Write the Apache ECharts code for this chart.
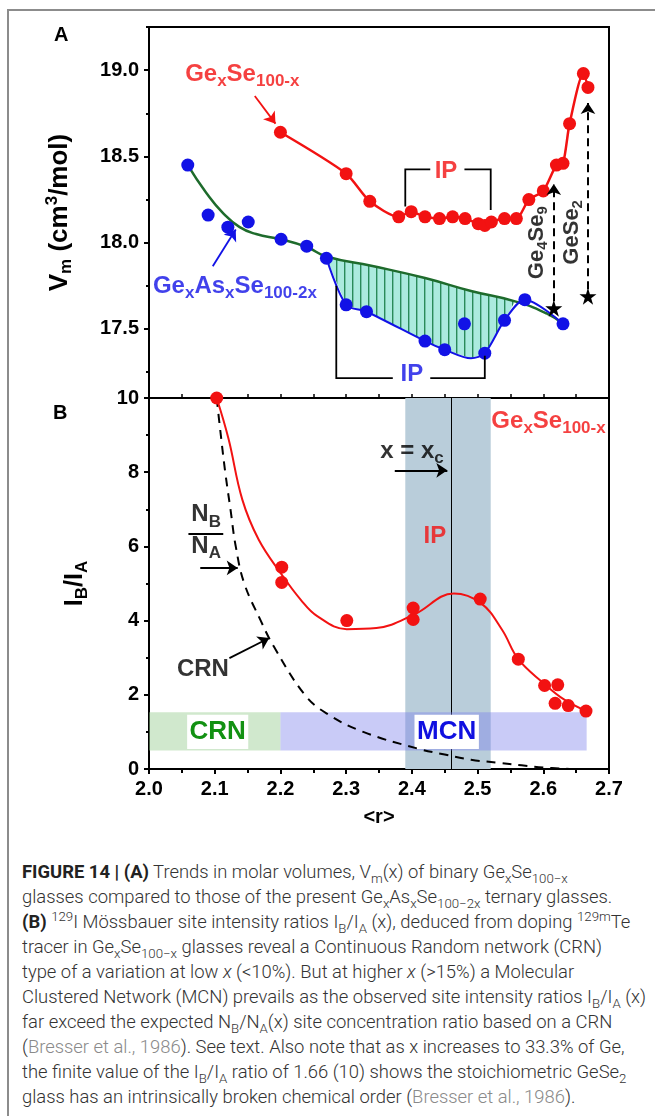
<!DOCTYPE html>
<html>
<head>
<meta charset="utf-8">
<script src="https://cdn.jsdelivr.net/npm/echarts@6.0.0/dist/echarts.min.js"></script>
<style>
  body { margin: 0; background: #fff; width: 655px; height: 1116px; overflow: hidden; position: relative; }
  #frame { position: absolute; left: 7px; top: 9px; width: 800px; height: 1200px; border-left: 2px solid #8c8c8c; border-top: 2px solid #8c8c8c; }
  #chart { position: absolute; left: 0; top: 0; width: 655px; height: 850px; }
  #cap { position: absolute; left: 22px; top: 859px; font-family: Roboto, "Liberation Sans", sans-serif; font-weight: 300;
         font-size: 18px; line-height: 25px; color: #333; transform-origin: left top; }
  #cap div { white-space: nowrap; }
  #cap b { font-weight: 700; color: #222; }
  #cap sub, #cap sup { font-size: 0.72em; line-height: 0; }
  #cap .ref { color: #8a8a8a; }
</style>
</head>
<body>
<div id="frame"></div>
<div id="chart"></div>
<div id="cap">
  <div><b>FIGURE 14 | (A)</b> Trends in molar volumes, V<sub>m</sub>(x) of binary Ge<sub>x</sub>Se<sub>100−x</sub></div>
  <div>glasses compared to those of the present Ge<sub>x</sub>As<sub>x</sub>Se<sub>100−2x</sub> ternary glasses.</div>
  <div><b>(B)</b> <sup>129</sup>I Mössbauer site intensity ratios I<sub>B</sub>/I<sub>A</sub> (x), deduced from doping <sup>129m</sup>Te</div>
  <div>tracer in Ge<sub>x</sub>Se<sub>100−x</sub> glasses reveal a Continuous Random network (CRN)</div>
  <div>type of a variation at low <i>x</i> (&lt;10%). But at higher <i>x</i> (&gt;15%) a Molecular</div>
  <div id="wideLine">Clustered Network (MCN) prevails as the observed site intensity ratios I<sub>B</sub>/I<sub>A</sub> (x)</div>
  <div>far exceed the expected N<sub>B</sub>/N<sub>A</sub>(x) site concentration ratio based on a CRN</div>
  <div>(<span class="ref">Bresser et al., 1986</span>). See text. Also note that as x increases to 33.3% of Ge,</div>
  <div>the finite value of the I<sub>B</sub>/I<sub>A</sub> ratio of 1.66 (10) shows the stoichiometric GeSe<sub>2</sub></div>
  <div>glass has an intrinsically broken chemical order (<span class="ref">Bresser et al., 1986</span>).</div>
</div>
<script>
// ---- panel A: molar volume ----
const geSeR = [2.200, 2.300, 2.336, 2.380, 2.399, 2.420, 2.442, 2.462, 2.481, 2.501, 2.511, 2.521, 2.541, 2.559, 2.578, 2.600, 2.620, 2.630, 2.640, 2.661, 2.668]
const geSeVm = [18.64, 18.40, 18.24, 18.15, 18.18, 18.15, 18.14, 18.15, 18.14, 18.11, 18.10, 18.12, 18.14, 18.14, 18.25, 18.30, 18.45, 18.46, 18.69, 18.98, 18.90]
const geAsSeR = [2.059, 2.090, 2.120, 2.151, 2.201, 2.240, 2.270, 2.300, 2.331, 2.420, 2.450, 2.480, 2.511, 2.541, 2.572, 2.630]
const geAsSeVm = [18.45, 18.16, 18.09, 18.12, 18.02, 17.98, 17.91, 17.64, 17.60, 17.43, 17.38, 17.53, 17.36, 17.55, 17.67, 17.53]
// green guide curve (network trend) and blue guide through the IP window
const trendR = [2.059, 2.087, 2.113, 2.138, 2.163, 2.200, 2.240, 2.270, 2.340, 2.420, 2.490, 2.557, 2.605, 2.630]
const trendVm = [18.45, 18.29, 18.17, 18.09, 18.05, 18.02, 17.975, 17.92, 17.865, 17.795, 17.72, 17.66, 17.59, 17.53]
const ipLineR = [2.270, 2.300, 2.331, 2.420, 2.450, 2.490, 2.511, 2.541, 2.572, 2.630]
const ipLineVm = [17.91, 17.64, 17.60, 17.43, 17.38, 17.33, 17.36, 17.55, 17.67, 17.53]
const hatchFrom = 2.27, hatchTo = 2.56
const starR = [2.616, 2.668]   // Ge4Se9, GeSe2
const starVm = [17.62, 17.69]
const vmTicks = [17.5, 18.0, 18.5, 19.0]
const vmMinorTicks = [17.25, 17.75, 18.25, 18.75, 19.25]

// ---- panel B: I_B/I_A ----
const ratioR = [2.103, 2.202, 2.202, 2.301, 2.402, 2.402, 2.504, 2.562, 2.602, 2.622, 2.618, 2.638, 2.665]
const ratioIB = [10.0, 5.44, 5.03, 4.00, 4.34, 4.03, 4.58, 2.96, 2.25, 2.27, 1.77, 1.71, 1.56]
const fitR = [2.103, 2.121, 2.142, 2.167, 2.202, 2.231, 2.256, 2.301, 2.346, 2.403, 2.464, 2.505, 2.537, 2.562, 2.600, 2.632, 2.667]
const fitIB = [10.0, 8.9, 7.26, 6.18, 5.24, 4.56, 4.12, 3.77, 3.80, 4.16, 4.73, 4.47, 3.76, 2.96, 2.32, 1.87, 1.55]
const crnR = [2.103, 2.108, 2.116, 2.124, 2.132, 2.145, 2.170, 2.190, 2.237, 2.270, 2.326, 2.409, 2.450, 2.490, 2.530, 2.567, 2.600, 2.640]
const crnIB = [10.0, 9.2, 8.0, 7.0, 6.0, 5.0, 4.0, 3.3, 2.0, 1.5, 1.0, 0.55, 0.39, 0.25, 0.17, 0.10, 0.04, 0.0]
const ipBand = [2.39, 2.52]
const xc = 2.4615
const crnBand = [2.0, 2.2]
const mcnBand = [2.2, 2.666]
const bandIB = [0.5, 1.53]
const crnBox = [2.058, 2.151]
const mcnBox = [2.404, 2.502]
const boxIB = [0.54, 1.46]

// arrows [r1, y1, r2, y2]
const arrowRedA = [2.161, 18.85, 2.1925, 18.69]
const arrowBlueA = [2.097, 17.863, 2.132, 18.077]
const ipTopLeft = [[2.428, 18.425], [2.390, 18.425], [2.390, 18.21]]
const ipTopRight = [[2.480, 18.425], [2.520, 18.425], [2.520, 18.19]]
const ipLowLeft = [[2.371, 17.215], [2.285, 17.215], [2.285, 17.75]]
const ipLowRight = [[2.428, 17.215], [2.511, 17.215], [2.511, 17.345]]
const dashGe4Se9 = [[2.616, 17.66], [2.616, 18.34]]
const dashGeSe2 = [[2.668, 17.73], [2.668, 18.81]]
const arrowXc = [2.374, 8.05, 2.454, 8.05]
const arrowNbNa = [2.078, 5.42, 2.135, 5.42]
const arrowCrn = [2.1224, 2.99, 2.183, 3.53]
const fracBar = [2.060, 6.34, 2.113, 6.34]

const F = '"Liberation Sans", Arial, sans-serif'
const RED = '#f21212'
const BLUE = '#1212e6'
const GREEN = '#1e6b2c'

function pts(xs, ys) { return xs.map((x, i) => [x, ys[i]]) }

function mkRich(big, small) {
  const shift = Math.round(small * 0.8)
  return {
    b: { fontSize: big, fontWeight: 'bold', fontFamily: F },
    s: { fontSize: small, fontWeight: 'bold', fontFamily: F, padding: [shift, 0, 0, 0] },
    p: { fontSize: small, fontWeight: 'bold', fontFamily: F, padding: [0, 0, shift, 0] }
  }
}

function tag(r, v, text, color, extra, big, small) {
  return {
    value: [r, v],
    label: Object.assign({
      show: true, formatter: text, color: color, position: 'inside',
      fontFamily: F, fontWeight: 'bold', fontSize: big || 24, rich: mkRich(big || 24, small || 17)
    }, extra || {})
  }
}

function arrowLine(seg, color, axes, opts) {
  const coords = Array.isArray(seg[0]) ? seg : [[seg[0], seg[1]], [seg[2], seg[3]]]
  return Object.assign({
    type: 'lines', coordinateSystem: 'cartesian2d', xAxisIndex: axes, yAxisIndex: axes === 0 ? 0 : 2,
    polyline: coords.length > 2, symbol: ['none', 'arrow'], symbolSize: 11, z: 8, silent: true,
    lineStyle: { color: color, width: 1.8, opacity: 1 },
    data: [{ coords: coords }]
  }, opts || {})
}

// hatch pattern for the IP window in panel A
const pat = document.createElement('canvas')
pat.width = 8; pat.height = 8
const pc = pat.getContext('2d')
pc.fillStyle = '#abeadf'; pc.fillRect(0, 0, 8, 8)
pc.fillStyle = '#2a8a5a'; pc.fillRect(0, 0, 1.4, 8)

const hatchPoly = pts(trendR, trendVm).filter(p => p[0] >= hatchFrom && p[0] <= hatchTo)
  .concat(pts(ipLineR, ipLineVm).filter(p => p[0] >= hatchFrom && p[0] <= hatchTo).reverse())

const axisBlack = { show: true, onZero: false, lineStyle: { color: '#000', width: 2 } }
const tickFont = { fontFamily: F, fontWeight: 'bold', fontSize: 20, color: '#000' }

const chart = echarts.init(document.getElementById('chart'))
chart.setOption({
  animation: false,
  backgroundColor: 'transparent',
  grid: [
    { left: 149, top: 27, width: 460, height: 371, show: true, borderColor: '#000', borderWidth: 2 },
    { left: 149, top: 398, width: 460, height: 371, show: true, borderColor: '#000', borderWidth: 2 }
  ],
  xAxis: [
    {
      gridIndex: 0, type: 'value', min: 2.0, max: 2.7, interval: 0.1,
      axisLine: axisBlack,
      axisTick: { show: true, inside: true, length: 4, lineStyle: { color: '#000', width: 1.5 } },
      minorTick: { show: true, splitNumber: 2, length: 4, lineStyle: { color: '#000', width: 1.5 } },
      axisLabel: { show: false }, splitLine: { show: false }
    },
    {
      gridIndex: 1, type: 'value', min: 2.0, max: 2.7, interval: 0.1,
      axisLine: axisBlack,
      axisTick: { show: true, length: 5, lineStyle: { color: '#000', width: 2 } },
      minorTick: { show: true, splitNumber: 2, length: 4, lineStyle: { color: '#000', width: 2 } },
      axisLabel: Object.assign({ margin: 10, formatter: v => v.toFixed(1) }, tickFont),
      splitLine: { show: false },
      name: '<r>', nameLocation: 'middle', nameGap: 38,
      nameTextStyle: { fontFamily: F, fontWeight: 'bold', fontSize: 20, color: '#000' }
    }
  ],
  yAxis: [
    {
      gridIndex: 0, type: 'value', min: 17.1, max: 19.25,
      axisLine: axisBlack,
      axisTick: { show: true, length: 5, customValues: vmTicks, lineStyle: { color: '#000', width: 2 } },
      axisLabel: Object.assign({ margin: 10, customValues: vmTicks, formatter: v => v.toFixed(1) }, tickFont),
      splitLine: { show: false },
      name: '{b|V}{s|m}{b| (cm}{p|3}{b|/mol)}', nameLocation: 'middle', nameGap: 74,
      nameTextStyle: { color: '#000', fontFamily: F, fontWeight: 'bold', fontSize: 26, rich: mkRich(26, 17) }
    },
    {
      gridIndex: 0, type: 'value', min: 17.1, max: 19.25, position: 'left', offset: 0,
      axisLine: { show: false },
      axisTick: { show: true, length: 3, customValues: vmMinorTicks, lineStyle: { color: '#000', width: 2 } },
      axisLabel: { show: false }, splitLine: { show: false }
    },
    {
      gridIndex: 1, type: 'value', min: 0, max: 10, interval: 2,
      axisLine: axisBlack,
      axisTick: { show: true, length: 5, lineStyle: { color: '#000', width: 2 } },
      minorTick: { show: true, splitNumber: 2, length: 3, lineStyle: { color: '#000', width: 2 } },
      axisLabel: Object.assign({ margin: 10 }, tickFont),
      splitLine: { show: false },
      name: '{b|I}{s|B}{b|/I}{s|A}', nameLocation: 'middle', nameGap: 58,
      nameTextStyle: { color: '#000', fontFamily: F, fontWeight: 'bold', fontSize: 25, rich: mkRich(25, 17) }
    }
  ],
  graphic: [
    { type: 'text', left: 54, top: 25, style: { text: 'A', font: 'bold 20px ' + F, fill: '#000' } },
    { type: 'text', left: 53, top: 403, style: { text: 'B', font: 'bold 20px ' + F, fill: '#000' } }
  ],
  series: [
    // ---------- panel A ----------
    {
      type: 'custom', xAxisIndex: 0, yAxisIndex: 0, z: 1, silent: true,
      data: [[hatchFrom, hatchPoly[0][1]]],
      renderItem: (params, api) => ({
        type: 'polygon',
        shape: { points: hatchPoly.map(p => api.coord(p)) },
        style: { fill: { image: pat, repeat: 'repeat' }, stroke: null }
      })
    },
    {
      type: 'line', xAxisIndex: 0, yAxisIndex: 0, z: 3, smooth: 0.5, showSymbol: false, silent: true,
      lineStyle: { color: GREEN, width: 2.5 }, data: pts(trendR, trendVm)
    },
    {
      type: 'line', xAxisIndex: 0, yAxisIndex: 0, z: 3, smooth: 0.3, showSymbol: false, silent: true,
      lineStyle: { color: BLUE, width: 2 }, data: pts(ipLineR, ipLineVm)
    },
    {
      type: 'line', xAxisIndex: 0, yAxisIndex: 0, z: 5, smooth: 0.25, symbol: 'circle', symbolSize: 13,
      showAllSymbol: true, silent: true,
      lineStyle: { color: RED, width: 2.5 }, itemStyle: { color: RED }, data: pts(geSeR, geSeVm)
    },
    {
      type: 'scatter', xAxisIndex: 0, yAxisIndex: 0, z: 5, symbolSize: 13, silent: true,
      itemStyle: { color: BLUE, opacity: 1 }, data: pts(geAsSeR, geAsSeVm)
    },
    {
      type: 'scatter', xAxisIndex: 0, yAxisIndex: 0, z: 6, silent: true,
      symbol: 'path://M50,0 L61,35 L98,35 L68,57 L79,91 L50,70 L21,91 L32,57 L2,35 L39,35 Z',
      symbolSize: 17, itemStyle: { color: '#000', opacity: 1 }, data: pts(starR, starVm)
    },
    arrowLine(arrowRedA, RED, 0),
    arrowLine(arrowBlueA, BLUE, 0),
    arrowLine(ipTopLeft, '#000', 0),
    arrowLine(ipTopRight, '#000', 0),
    arrowLine(ipLowLeft, '#000', 0),
    arrowLine(ipLowRight, '#000', 0),
    arrowLine(dashGe4Se9, '#000', 0, { lineStyle: { color: '#000', width: 2, type: [8, 5], opacity: 1 } }),
    arrowLine(dashGeSe2, '#000', 0, { lineStyle: { color: '#000', width: 2, type: [8, 5], opacity: 1 } }),
    {
      type: 'scatter', xAxisIndex: 0, yAxisIndex: 0, z: 9, symbolSize: 0, silent: true,
      data: [
        tag(2.055, 18.977, '{b|Ge}{s|x}{b|Se}{s|100-x}', RED, { position: 'right', distance: 0 }),
        tag(2.006, 17.745, '{b|Ge}{s|x}{b|As}{s|x}{b|Se}{s|100-2x}', BLUE, { position: 'right', distance: 0 }),
        tag(2.452, 18.415, '{b|IP}', RED),
        tag(2.400, 17.235, '{b|IP}', BLUE),
        tag(2.590, 18.0, '{b|Ge}{s|4}{b|Se}{s|9}', '#000', { rotate: 90 }, 22, 15),
        tag(2.643, 18.06, '{b|GeSe}{s|2}', '#000', { rotate: 90 }, 22, 15)
      ]
    },
    // ---------- panel B ----------
    {
      type: 'line', xAxisIndex: 1, yAxisIndex: 2, data: [], silent: true,
      markArea: { silent: true, z: 1, itemStyle: { color: '#b9cdda' }, label: { show: false },
        data: [[{ xAxis: ipBand[0] }, { xAxis: ipBand[1] }]] },
      markLine: { silent: true, z: 2, symbol: ['none', 'none'], label: { show: false },
        lineStyle: { color: '#000', width: 1, type: 'solid' }, data: [{ xAxis: xc }] }
    },
    {
      type: 'line', xAxisIndex: 1, yAxisIndex: 2, data: [], silent: true,
      markArea: { silent: true, z: 3, label: { show: false },
        data: [
          [{ xAxis: crnBand[0], yAxis: bandIB[0], itemStyle: { color: 'rgba(150,205,145,0.45)' } }, { xAxis: crnBand[1], yAxis: bandIB[1] }],
          [{ xAxis: mcnBand[0], yAxis: bandIB[0], itemStyle: { color: 'rgba(120,125,235,0.4)' } }, { xAxis: mcnBand[1], yAxis: bandIB[1] }]
        ] }
    },
    {
      type: 'line', xAxisIndex: 1, yAxisIndex: 2, data: [], silent: true,
      markArea: { silent: true, z: 4, itemStyle: { color: '#fff' },
        label: { show: true, position: 'inside', fontFamily: F, fontWeight: 'bold', fontSize: 26 },
        data: [
          [{ name: 'CRN', xAxis: crnBox[0], yAxis: boxIB[0], label: { color: '#129112' } }, { xAxis: crnBox[1], yAxis: boxIB[1] }],
          [{ name: 'MCN', xAxis: mcnBox[0], yAxis: boxIB[0], label: { color: '#1010e0' } }, { xAxis: mcnBox[1], yAxis: boxIB[1] }]
        ] }
    },
    {
      type: 'line', xAxisIndex: 1, yAxisIndex: 2, z: 5, smooth: 0.4, showSymbol: false, silent: true,
      lineStyle: { color: '#000', width: 2, type: [9, 7] }, data: pts(crnR, crnIB)
    },
    {
      type: 'line', xAxisIndex: 1, yAxisIndex: 2, z: 5, smooth: 0.4, showSymbol: false, silent: true,
      lineStyle: { color: RED, width: 2 }, data: pts(fitR, fitIB)
    },
    {
      type: 'scatter', xAxisIndex: 1, yAxisIndex: 2, z: 6, symbolSize: 13, silent: true,
      itemStyle: { color: RED, opacity: 1 }, data: pts(ratioR, ratioIB)
    },
    arrowLine(arrowXc, '#000', 1),
    arrowLine(arrowNbNa, '#000', 1),
    arrowLine(arrowCrn, '#000', 1),
    arrowLine(fracBar, '#000', 1, { symbol: ['none', 'none'], lineStyle: { color: '#000', width: 2, opacity: 1 } }),
    {
      type: 'scatter', xAxisIndex: 1, yAxisIndex: 2, z: 9, symbolSize: 0, silent: true,
      data: [
        tag(2.521, 9.37, '{b|Ge}{s|x}{b|Se}{s|100-x}', RED, { position: 'right', distance: 0 }),
        tag(2.435, 6.27, '{b|IP}', RED),
        tag(2.352, 8.56, '{b|x = x}{s|c}', '#000', { position: 'right', distance: 0 }),
        tag(2.087, 6.85, '{b|N}{s|B}', '#000'),
        tag(2.087, 6.00, '{b|N}{s|A}', '#000'),
        tag(2.082, 2.68, '{b|CRN}', '#000')
      ]
    }
  ]
})

// fit the caption lines to the printed column width
const cap = document.getElementById('cap')
const wide = document.getElementById('wideLine')
const range = document.createRange()
range.selectNodeContents(wide)
const w = range.getBoundingClientRect().width
cap.style.transform = 'scaleX(' + (624 / w).toFixed(4) + ')'
</script>
</body>
</html>
